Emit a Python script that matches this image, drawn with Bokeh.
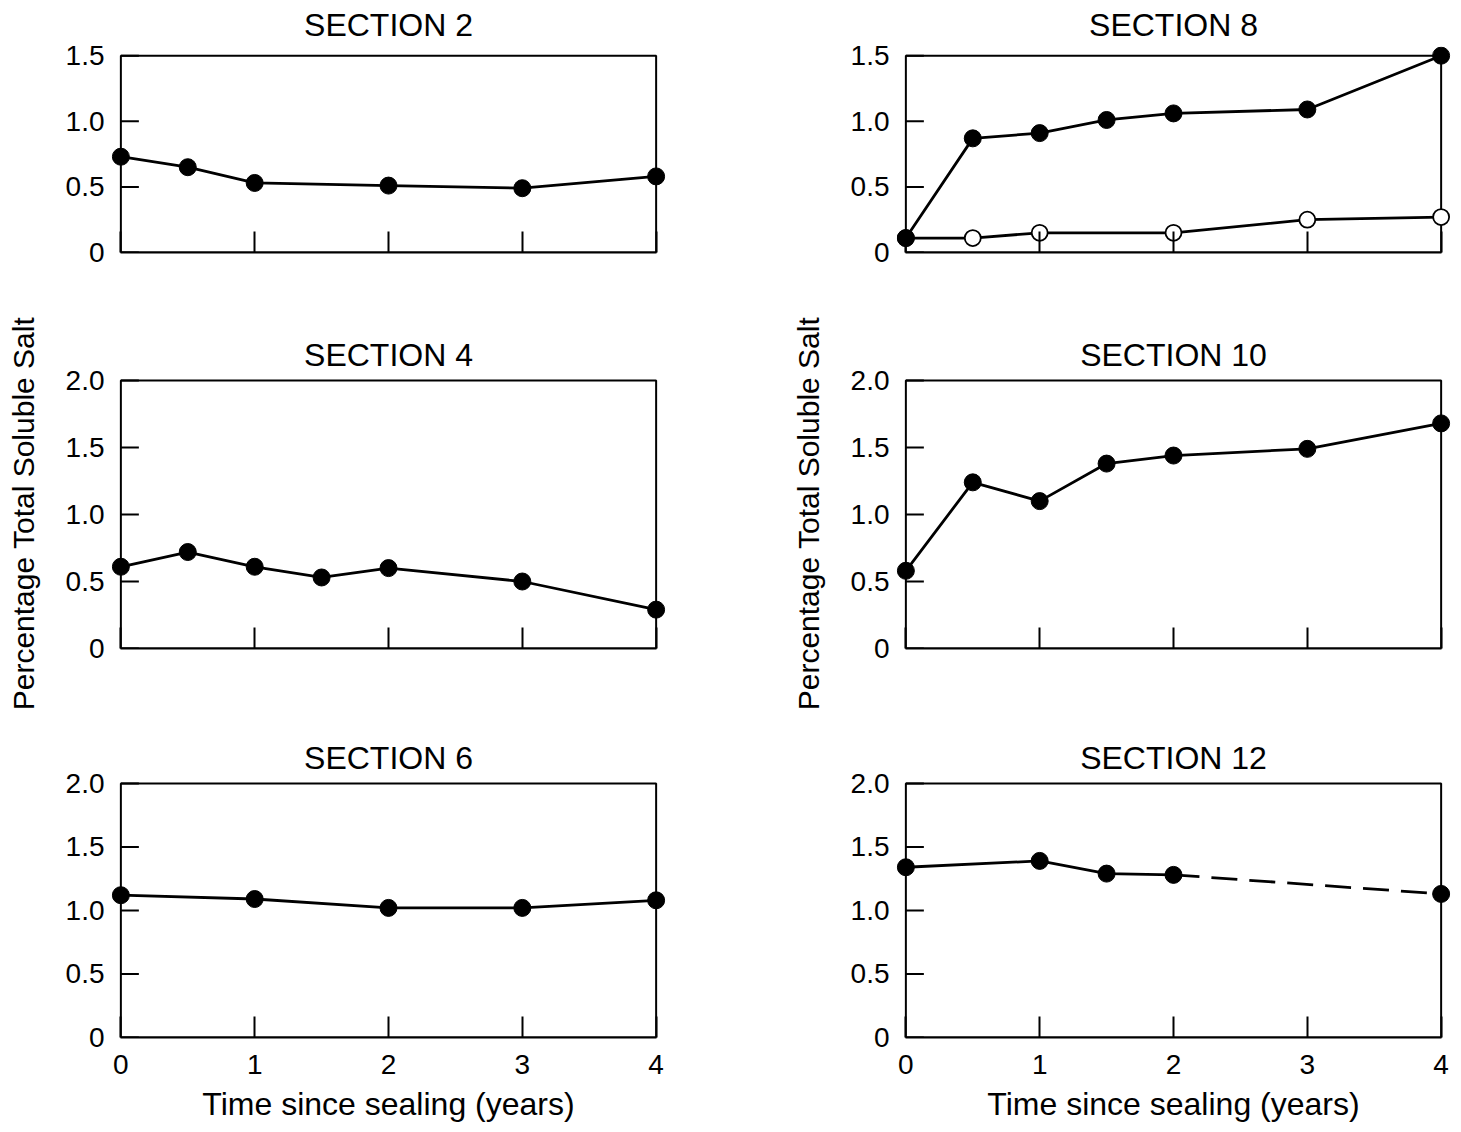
from bokeh.plotting import figure
from bokeh.models import Range1d, FixedTicker, CustomJSTickFormatter
from bokeh.layouts import gridplot
from bokeh.embed import file_html
from bokeh.resources import INLINE

# ---------------- data ----------------
x_ticks = [0, 1, 2, 3, 4]
x_labels = ["0", "1", "2", "3", "4"]
y_ticks_15 = [0, 0.5, 1.0, 1.5]
y_labels_15 = ["0", "0.5", "1.0", "1.5"]
y_ticks_20 = [0, 0.5, 1.0, 1.5, 2.0]
y_labels_20 = ["0", "0.5", "1.0", "1.5", "2.0"]

s2_x = [0, 0.5, 1, 2, 3, 4]
s2_y = [0.73, 0.65, 0.53, 0.51, 0.49, 0.58]

s4_x = [0, 0.5, 1, 1.5, 2, 3, 4]
s4_y = [0.61, 0.72, 0.61, 0.53, 0.60, 0.50, 0.29]

s6_x = [0, 1, 2, 3, 4]
s6_y = [1.12, 1.09, 1.02, 1.02, 1.08]

s8_filled_x = [0, 0.5, 1, 1.5, 2, 3, 4]
s8_filled_y = [0.11, 0.87, 0.91, 1.01, 1.06, 1.09, 1.50]
s8_open_x = [0, 0.5, 1, 2, 3, 4]
s8_open_y = [0.11, 0.11, 0.15, 0.15, 0.25, 0.27]

s10_x = [0, 0.5, 1, 1.5, 2, 3, 4]
s10_y = [0.58, 1.24, 1.10, 1.38, 1.44, 1.49, 1.68]

s12_x = [0, 1, 1.5, 2, 4]
s12_y = [1.34, 1.39, 1.29, 1.28, 1.13]
s12_solid_points = 4  # first 4 points joined by a solid line, rest dashed

x_title = "Time since sealing (years)"
y_title = "Percentage Total Soluble Salt"

# ---------------- style ----------------
FONT = "Liberation Sans"
PADX = 0.07
LINE_W = 2.8
MARK = 17


def label_formatter(vals, labels):
    return CustomJSTickFormatter(
        args=dict(tvals=vals, tlabels=labels),
        code="const i = tvals.indexOf(tick); return i >= 0 ? tlabels[i] : '';",
    )


def make_panel(title, yticks, ylabels, pad_top, width, height, bl, br, bt, bb,
               title_standoff, xlabel=None, ylabel=None):
    p = figure(width=width, height=height, output_backend="svg",
               toolbar_location=None,
               x_range=Range1d(x_ticks[0] - PADX, x_ticks[-1] + PADX),
               y_range=Range1d(yticks[0], yticks[-1] + pad_top),
               min_border_left=bl, min_border_right=br,
               min_border_top=bt, min_border_bottom=bb)
    p.title.text = title
    p.title.align = "center"
    p.title.text_font = FONT
    p.title.text_font_size = "32px"
    p.title.text_font_style = "normal"
    p.title.text_color = "black"
    p.title.standoff = title_standoff
    p.outline_line_color = None
    p.grid.visible = False
    p.background_fill_color = "white"
    p.border_fill_color = "white"

    # frame box at the data limits
    p.quad(left=[x_ticks[0]], right=[x_ticks[-1]], bottom=[yticks[0]],
           top=[yticks[-1]], fill_color=None, line_color="black",
           line_width=2)
    # inward y ticks starting on the box edge
    p.ray(x=[x_ticks[0]] * len(yticks), y=yticks, length=18, angle=0,
          length_units="screen", line_color="black", line_width=2)

    xa = p.xaxis[0]
    xa.bounds = (x_ticks[0], x_ticks[-1])
    xa.ticker = FixedTicker(ticks=x_ticks)
    xa.formatter = label_formatter(x_ticks, x_labels)
    xa.major_tick_in = 21
    xa.major_tick_out = 0
    xa.major_tick_line_width = 2
    xa.major_tick_line_color = "black"
    xa.minor_tick_line_color = None
    xa.axis_line_color = "black"
    xa.axis_line_width = 2
    xa.major_label_standoff = 17
    xa.major_label_text_font = FONT
    xa.major_label_text_font_size = "28px"
    if xlabel:
        xa.major_label_text_color = "black"
        xa.axis_label = xlabel
        xa.axis_label_standoff = 9
        xa.axis_label_text_font = FONT
        xa.axis_label_text_font_size = "32px"
        xa.axis_label_text_font_style = "normal"
        xa.axis_label_text_color = "black"
    else:
        xa.major_label_text_color = None
        xa.major_label_standoff = 5

    ya = p.yaxis[0]
    ya.ticker = FixedTicker(ticks=yticks)
    ya.formatter = label_formatter(yticks, ylabels)
    ya.major_tick_line_color = None
    ya.minor_tick_line_color = None
    ya.major_tick_in = 0
    ya.major_tick_out = 0
    ya.axis_line_color = None
    ya.major_label_standoff = 7
    ya.major_label_text_font = FONT
    ya.major_label_text_font_size = "28px"
    ya.major_label_text_color = "black"
    if ylabel:
        ya.axis_label = ylabel
        ya.axis_label_standoff = 23
        ya.axis_label_text_font = FONT
        ya.axis_label_text_font_size = "30px"
        ya.axis_label_text_font_style = "normal"
        ya.axis_label_text_color = "black"
    return p


def filled(p, x, y):
    p.line(x, y, line_color="black", line_width=LINE_W)
    p.scatter(x, y, marker="circle", size=MARK, fill_color="black",
              line_color="black")


# layout sizes (page has no margin: bokeh's template sets it to 0)
LW, LBL, LBR = 695, 111, 30
RW, RBL, RBR = 760, 201, 5
H1, T1, B1 = 312, 46, 60
H2, T2, B2 = 406, 66, 70
H3, T3, B3 = 414, 63, 95
PT1, PT2 = 0.07, 0.015

p2 = make_panel("SECTION 2", y_ticks_15, y_labels_15, PT1, LW, H1, LBL, LBR, T1, B1, 8)
filled(p2, s2_x, s2_y)

p8 = make_panel("SECTION 8", y_ticks_15, y_labels_15, PT1, RW, H1, RBL, RBR, T1, B1, 8)
p8.line(s8_open_x, s8_open_y, line_color="black", line_width=LINE_W)
p8.scatter(s8_open_x, s8_open_y, marker="circle", size=MARK - 1, fill_color="white",
           line_color="black", line_width=1.8)
filled(p8, s8_filled_x, s8_filled_y)

p4 = make_panel("SECTION 4", y_ticks_20, y_labels_20, PT2, LW, H2, LBL, LBR, T2, B2, 12,
                ylabel=y_title)
filled(p4, s4_x, s4_y)

p10 = make_panel("SECTION 10", y_ticks_20, y_labels_20, PT2, RW, H2, RBL, RBR, T2, B2, 12,
                 ylabel=y_title)
filled(p10, s10_x, s10_y)

p6 = make_panel("SECTION 6", y_ticks_20, y_labels_20, PT2, LW, H3, LBL, LBR, T3, B3, 11,
                xlabel=x_title)
filled(p6, s6_x, s6_y)

p12 = make_panel("SECTION 12", y_ticks_20, y_labels_20, PT2, RW, H3, RBL, RBR, T3, B3, 11,
                 xlabel=x_title)
p12.line(s12_x[:s12_solid_points], s12_y[:s12_solid_points], line_color="black",
         line_width=LINE_W)
p12.line(s12_x[s12_solid_points - 1:], s12_y[s12_solid_points - 1:], line_color="black",
         line_width=LINE_W, line_dash="26 12")
p12.scatter(s12_x, s12_y, marker="circle", size=MARK, fill_color="black", line_color="black")

grid = gridplot([[p2, p8], [p4, p10], [p6, p12]], toolbar_location=None)

open("out.html", "w").write(file_html(grid, INLINE))
